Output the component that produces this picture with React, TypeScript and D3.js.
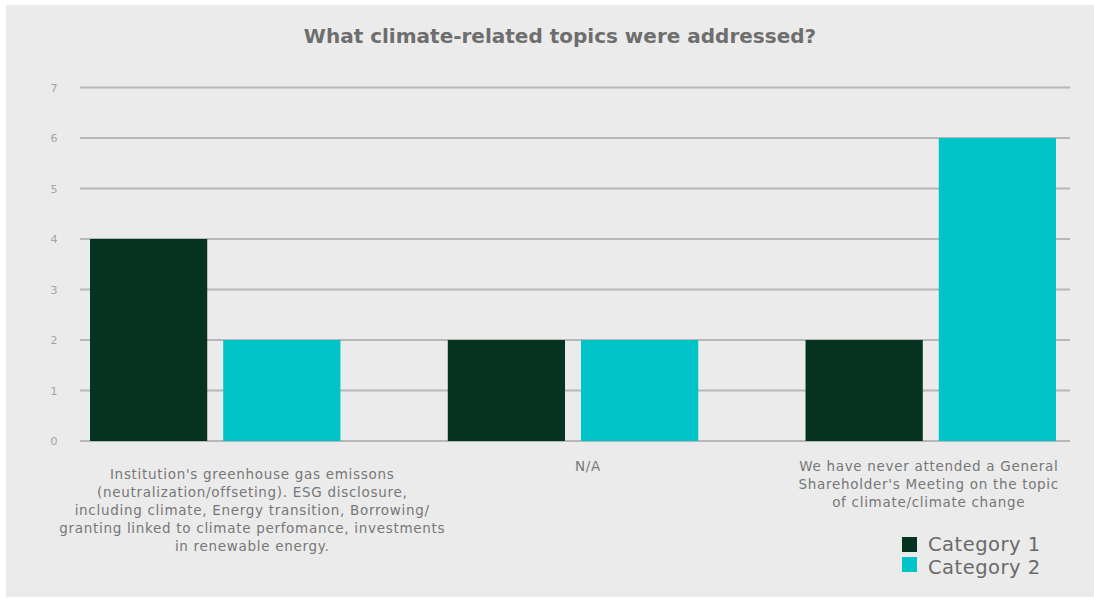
import * as d3 from 'd3';
import React from 'react';

const categories = ['topics', 'na', 'never'];
const categoryLabels = [
  [
    "Institution's greenhouse gas emissons",
    '(neutralization/offseting). ESG disclosure,',
    'including climate, Energy transition, Borrowing/',
    'granting linked to climate perfomance, investments',
    'in renewable energy.',
  ],
  ['N/A'],
  [
    'We have never attended a General',
    "Shareholder's Meeting on the topic",
    'of climate/climate change',
  ],
];
const seriesNames = ['Category 1', 'Category 2'];
const category1 = [4, 2, 2];
const category2 = [2, 2, 6];
const yTicks = [0, 1, 2, 3, 4, 5, 6, 7];

const colors = ['#053320', '#00C4C7'];
const W = 1094;
const H = 599;
const FONT = '"DejaVu Sans", sans-serif';

const App: React.FC = () => {
  const series = [category1, category2];

  // plot area
  const gridLeft = 80;
  const gridRight = 1070;
  const y = d3.scaleLinear().domain([0, 7]).range([441, 87.5]);
  const x0 = d3.scaleBand<string>().domain(categories).range([90, 1056]).paddingInner(0.3).paddingOuter(0);
  const x1 = d3
    .scaleBand<string>()
    .domain(seriesNames)
    .range([0, x0.bandwidth()])
    .paddingInner(0.12);

  // label offsets from the group centre, as in the original layout
  const labelShift = [37, 15, -2];

  return (
    <svg width={W} height={H} style={{ position: 'absolute', left: 0, top: 0, display: 'block' }}>
      <rect x={0} y={0} width={W} height={H} fill="#ffffff" />
      <rect x={6} y={5} width={W - 6} height={H - 7} fill="#EBEBEB" />

      {/* Title */}
      <text
        x={560}
        y={43}
        textAnchor="middle"
        fontFamily={FONT}
        fontWeight="bold"
        fontSize={20}
        fill="#6E6E6E"
      >
        What climate-related topics were addressed?
      </text>

      {/* gridlines + y ticks */}
      {yTicks.map(t => (
        <g key={t}>
          <line x1={gridLeft} x2={gridRight} y1={y(t)} y2={y(t)} stroke="#B7B7B7" strokeWidth={2} />
          <text x={54} y={y(t) + 4} textAnchor="middle" fontFamily={FONT} fontSize={11} fill="#A3A3A3">
            {t}
          </text>
        </g>
      ))}

      {/* bars */}
      {categories.map((c, i) => (
        <g key={c} transform={`translate(${x0(c)},0)`}>
          {series.map((s, j) => (
            <rect
              key={j}
              x={x1(seriesNames[j])}
              y={y(s[i])}
              width={x1.bandwidth()}
              height={y(0) - y(s[i])}
              fill={colors[j]}
            />
          ))}
        </g>
      ))}

      {/* category labels */}
      {categories.map((c, i) => {
        const cx = (x0(c) ?? 0) + x0.bandwidth() / 2 + labelShift[i];
        const top = categoryLabels[i].length > 3 ? 479 : 471;
        return (
          <text
            key={c}
            textAnchor="middle"
            fontFamily={FONT}
            fontSize={13.5}
            letterSpacing={0.7}
            fill="#777777"
          >
            {categoryLabels[i].map((line, k) => (
              <tspan key={k} x={cx} y={top + k * 18}>
                {line}
              </tspan>
            ))}
          </text>
        );
      })}

      {/* legend */}
      {seriesNames.map((n, j) => (
        <g key={n}>
          <rect x={902} y={537 + j * 20} width={15} height={15} fill={colors[j]} />
          <text x={928} y={551 + j * 23} fontFamily={FONT} fontSize={19.5} letterSpacing={0.5} fill="#6A6A6A">
            {n}
          </text>
        </g>
      ))}
    </svg>
  );
};

export default App;
